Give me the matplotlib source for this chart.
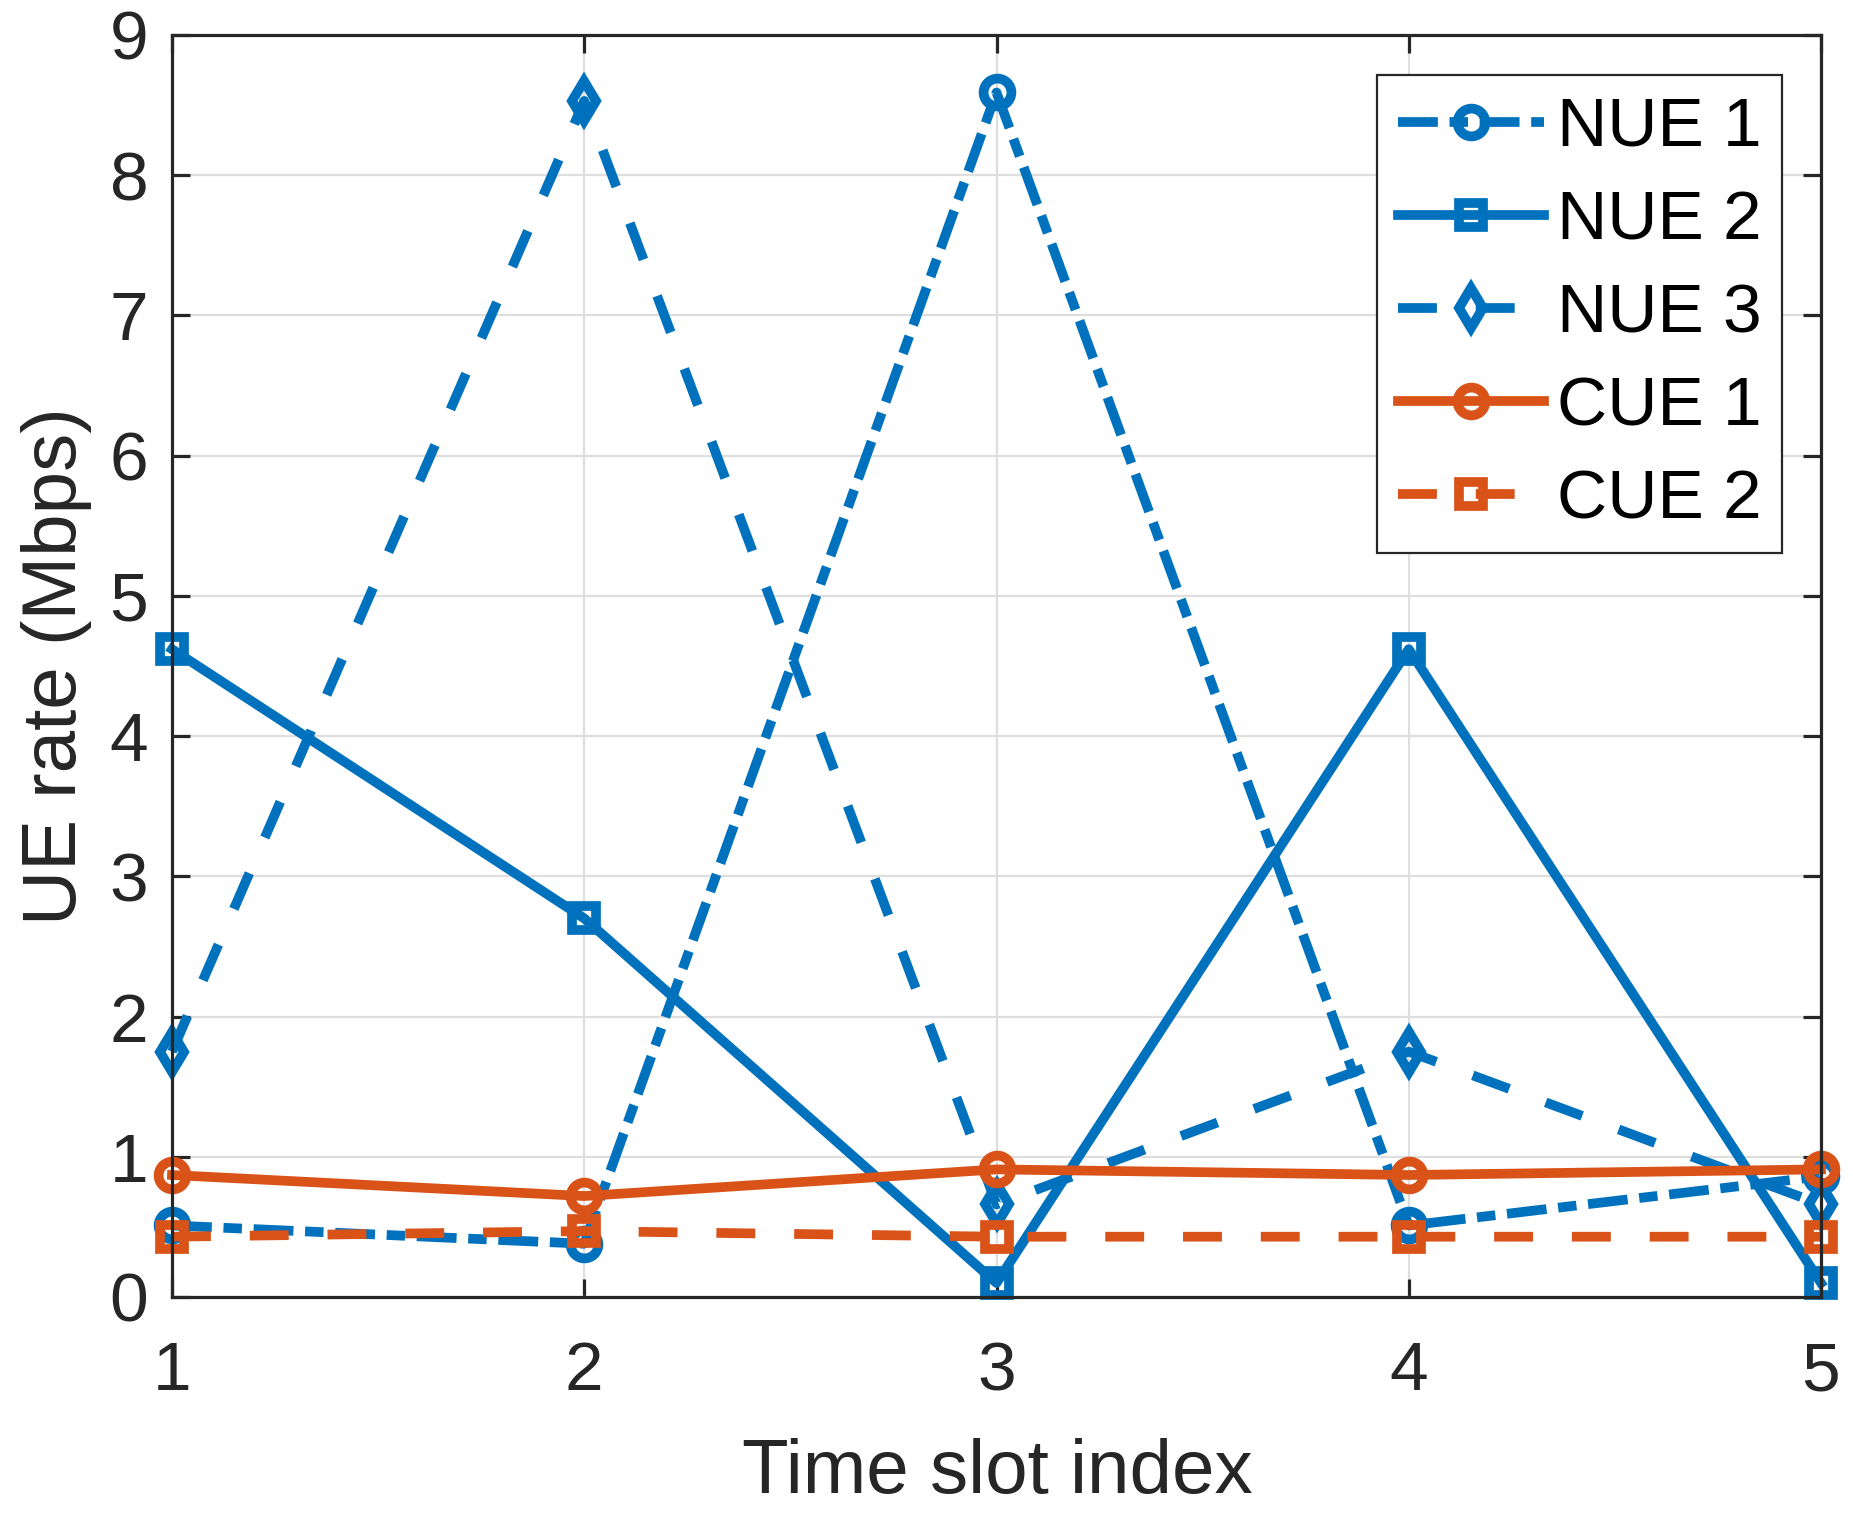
import matplotlib
matplotlib.use("Agg")
import matplotlib.pyplot as plt
from matplotlib.markers import MarkerStyle

# ---- data ----
slots = [1, 2, 3, 4, 5]
nue1 = [0.51, 0.38, 8.59, 0.51, 0.86]
nue2 = [4.62, 2.70, 0.10, 4.62, 0.10]
nue3 = [1.75, 8.53, 0.66, 1.75, 0.66]
cue1 = [0.87, 0.72, 0.91, 0.87, 0.91]
cue2 = [0.43, 0.47, 0.43, 0.43, 0.43]
labels = ["NUE 1", "NUE 2", "NUE 3", "CUE 1", "CUE 2"]
xticks = [1, 2, 3, 4, 5]
yticks = list(range(0, 10))

plt.rcParams['font.family'] = ['Liberation Sans', 'DejaVu Sans']

W, H = 1853, 1528
fig = plt.figure(figsize=(W / 100, H / 100), dpi=100)
L, R, T, B = 172, 1821, 35, 1297
ax = fig.add_axes([L / W, 1 - B / H, (R - L) / W, (B - T) / H])

blue = '#0072BD'
orange = '#D95319'
lw = 7
mew = 7

diamond = MarkerStyle('d', joinstyle='miter')

common = dict(lw=lw, mew=mew, mfc='none', clip_on=False)
ax.plot(slots, nue1, color=blue, ls=(0, (4.1, 1.2, 1.9, 1.2)), marker='o',
        ms=20, label=labels[0], **common)
ax.plot(slots, nue2, color=blue, ls='-', marker='s',
        ms=17, label=labels[1], **common)
ax.plot(slots, nue3, color=blue, ls=(0, (4, 4)), marker=diamond,
        ms=20, label=labels[2], **common)
ax.plot(slots, cue1, color=orange, ls='-', marker='o',
        ms=20, label=labels[3], **common)
ax.plot(slots, cue2, color=orange, ls=(0, (4, 4)), marker='s',
        ms=17, label=labels[4], **common)

ax.set_xlim(1, 5)
ax.set_ylim(0, 9)
ax.set_xticks(xticks)
ax.set_yticks(yticks)
ax.set_xticklabels([str(v) for v in xticks])
ax.set_yticklabels([str(v) for v in yticks])

spc = '#262626'
for s in ax.spines.values():
    s.set_color(spc)
    s.set_linewidth(2.3)
ax.tick_params(axis='both', direction='in', length=13, width=2.3, color=spc,
               labelcolor=spc, labelsize=50, top=True, right=True)
ax.tick_params(axis='y', pad=17)
ax.tick_params(axis='x', pad=31)
ax.grid(True, color='#dedede', lw=1.6)
ax.set_axisbelow(True)

fig.text(57 / W, 1 - 666 / H, "UE rate (Mbps)", rotation=90, ha='center', va='center',
         fontsize=55, color=spc)
fig.text(997 / W, 1 - 1493 / H, "Time slot index", ha='center', va='baseline',
         fontsize=55, color=spc)

leg = ax.legend(loc='upper right', bbox_to_anchor=(1782 / W, 1 - 75 / H),
                bbox_transform=fig.transFigure, borderaxespad=0, fontsize=50,
                fancybox=False, framealpha=1, edgecolor=spc, handlelength=2.1,
                handletextpad=0.18, labelspacing=0.42, borderpad=0.3, numpoints=1)
leg.get_frame().set_linewidth(1.6)
for t in leg.get_texts():
    t.set_color('black')

fig.savefig("out.png", dpi=100)
